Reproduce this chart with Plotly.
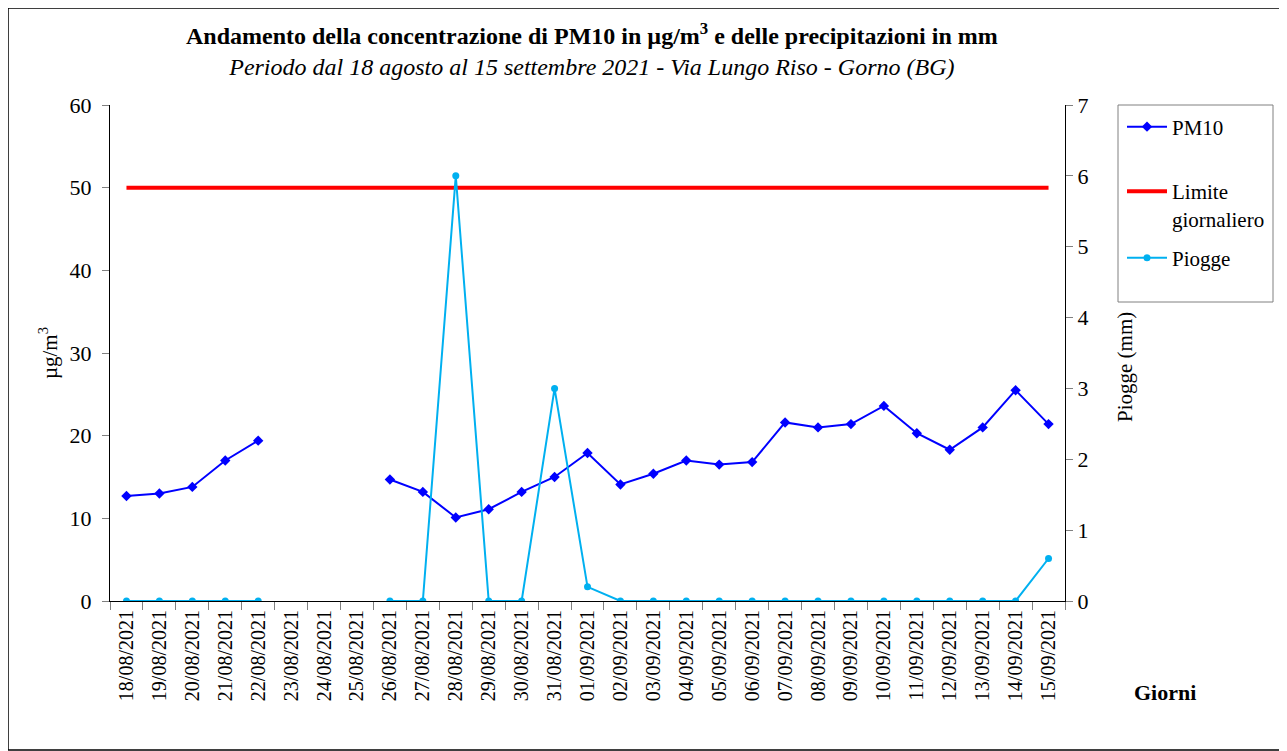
import plotly.graph_objects as go

# dati
giorni = ['18/08/2021', '19/08/2021', '20/08/2021', '21/08/2021', '22/08/2021',
          '23/08/2021', '24/08/2021', '25/08/2021', '26/08/2021', '27/08/2021',
          '28/08/2021', '29/08/2021', '30/08/2021', '31/08/2021', '01/09/2021',
          '02/09/2021', '03/09/2021', '04/09/2021', '05/09/2021', '06/09/2021',
          '07/09/2021', '08/09/2021', '09/09/2021', '10/09/2021', '11/09/2021',
          '12/09/2021', '13/09/2021', '14/09/2021', '15/09/2021']
pm10 = [12.7, 13.0, 13.8, 17.0, 19.4, None, None, None, 14.7, 13.2,
        10.1, 11.1, 13.2, 15.0, 17.9, 14.1, 15.4, 17.0, 16.5, 16.8,
        21.6, 21.0, 21.4, 23.6, 20.3, 18.3, 21.0, 25.5, 21.4]
limite = [50] * len(giorni)
piogge = [0, 0, 0, 0, 0, None, None, None, 0, 0,
          6.0, 0, 0, 3.0, 0.2, 0, 0, 0, 0, 0,
          0, 0, 0, 0, 0, 0, 0, 0, 0.6]

FONT = 'Liberation Serif'

fig = go.Figure()
fig.add_trace(go.Scatter(x=giorni, y=pm10, name='PM10', mode='lines+markers',
                         line=dict(color='#0000FF', width=2),
                         marker=dict(symbol='diamond', size=8, color='#0000FF'),
                         connectgaps=False, legend='legend'))
fig.add_trace(go.Scatter(x=giorni, y=limite, name='Limite<br>giornaliero', mode='lines',
                         line=dict(color='#FF0000', width=4), legend='legend2'))
fig.add_trace(go.Scatter(x=giorni, y=piogge, name='Piogge', mode='lines+markers',
                         line=dict(color='#00B0F0', width=2),
                         marker=dict(symbol='circle', size=7, color='#00B0F0'),
                         connectgaps=False, yaxis='y2', legend='legend3'))

# conversione pixel schermo -> coordinate paper (pagina con 8px di margine)
def px_x(x):
    return (x - 8 - 102) / 955

def px_y(y):
    return (593 - (y - 8)) / 496

leg = dict(xanchor='left', yanchor='middle', bgcolor='rgba(0,0,0,0)',
           borderwidth=0, font=dict(size=21), itemwidth=40, valign='top')

fig.update_layout(
    width=1279, height=743,
    margin=dict(l=102, r=222, t=97, b=150),
    paper_bgcolor='white', plot_bgcolor='white',
    font=dict(family=FONT, size=21, color='black'),
    xaxis=dict(type='category', range=[-0.5, len(giorni) - 0.5], tickangle=-90,
               showline=True, linecolor='black',
               ticks='outside', tickcolor='gray', ticklen=8, tickson='boundaries',
               showgrid=False, zeroline=False, tickfont=dict(size=20)),
    yaxis=dict(range=[0, 60], dtick=10, showline=True, linecolor='black',
               ticks='outside', tickcolor='gray', ticklen=7, showgrid=False, zeroline=False,
               tickfont=dict(size=22), ticklabelstandoff=6,
               title=dict(text='µg/m<sup>3</sup>', font=dict(size=21), standoff=6)),
    yaxis2=dict(range=[0, 7], dtick=1, overlaying='y', side='right', showline=True,
                linecolor='black', ticks='outside', tickcolor='gray', ticklen=7,
                showgrid=False, zeroline=False, tickfont=dict(size=22)),
    legend=dict(leg, x=px_x(1122), y=px_y(127)),
    legend2=dict(leg, x=px_x(1122), y=px_y(205)),
    legend3=dict(leg, x=px_x(1122), y=px_y(258)),
    showlegend=True,
)

# riquadro della legenda
fig.add_shape(type='rect', xref='paper', yref='paper',
              x0=px_x(1118), x1=px_x(1273), y0=px_y(302), y1=px_y(105),
              line=dict(color='gray', width=1))

fig.add_annotation(text='<b>Andamento della concentrazione di PM10 in µg/m<sup>3</sup> e delle precipitazioni in mm</b>'
                        '<br><i>Periodo dal 18 agosto al 15 settembre 2021 - Via Lungo Riso - Gorno (BG)</i>',
                   xref='paper', yref='paper', x=px_x(592), y=px_y(49),
                   xanchor='center', yanchor='middle',
                   showarrow=False, font=dict(size=24))
# titolo asse destro
fig.add_annotation(text='Piogge (mm)', xref='paper', yref='paper',
                   x=px_x(1125), y=px_y(367), textangle=-90,
                   xanchor='center', yanchor='middle',
                   showarrow=False, font=dict(size=21))
fig.add_annotation(text='<b>Giorni</b>', xref='paper', yref='paper',
                   x=px_x(1165), y=px_y(692), xanchor='center', yanchor='middle',
                   showarrow=False, font=dict(size=22))

# cornice esterna
fig.add_shape(type='rect', xref='paper', yref='paper',
              x0=px_x(8), x1=px_x(1286), y0=px_y(750), y1=px_y(8),
              line=dict(color='black', width=1.5))

fig.write_html('out.html')
